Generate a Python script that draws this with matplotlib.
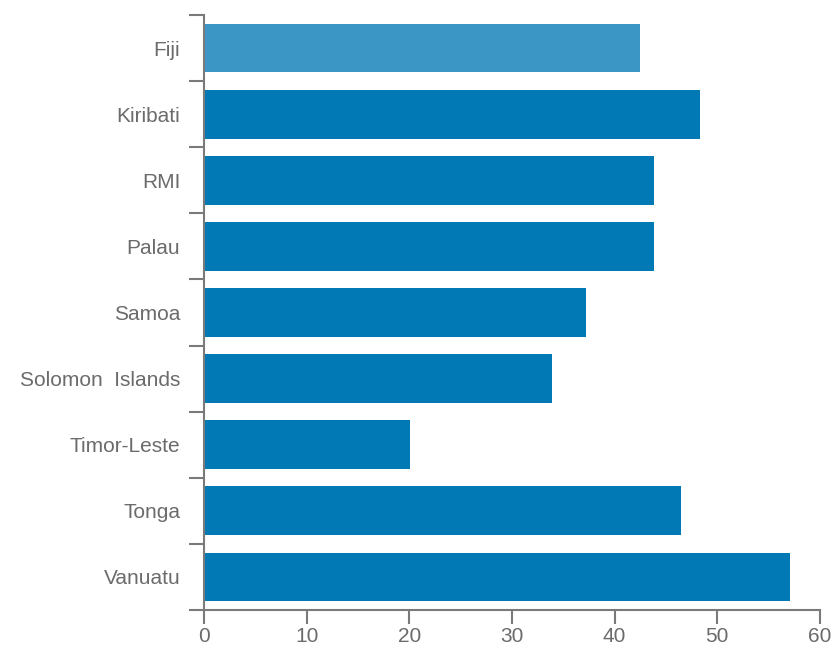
import matplotlib.pyplot as plt
import numpy as np
from matplotlib import font_manager

countries = ["Fiji", "Kiribati", "RMI", "Palau", "Samoa", "Solomon  Islands",
             "Timor-Leste", "Tonga", "Vanuatu"]
values = [42.5, 48.3, 43.8, 43.8, 37.2, 33.9, 20.1, 46.5, 57.1]
xticks = [0, 10, 20, 30, 40, 50, 60]

names = {f.name for f in font_manager.fontManager.ttflist}
family = "Liberation Sans Narrow" if "Liberation Sans Narrow" in names else "Liberation Sans"
plt.rcParams["font.family"] = [family, "DejaVu Sans"]

bar_c = "#0079b4"
txt_c = "#6b6b6b"
axis_c = "#7a7a7a"

fig = plt.figure(figsize=(8.37, 6.48), dpi=100)
ax = fig.add_axes([0.2437, 0.0586, 0.7360, 0.9183])

y = np.arange(len(countries))
colors = [bar_c] * len(countries)
colors[0] = "#3b95c5"
ax.barh(y, values, height=0.74, color=colors)

ax.set_xlim(0, 60)
ax.set_ylim(len(countries) - 0.5, -0.5)
ax.set_xticks(xticks)
ax.set_xticklabels([str(t) for t in xticks], fontsize=15, color=txt_c)
ax.set_yticks(y)
ax.set_yticklabels(countries, fontsize=15, color=txt_c)
ax.set_yticks(np.arange(len(countries) + 1) - 0.5, minor=True)
ax.tick_params(axis="y", which="major", length=0, pad=17)
ax.tick_params(axis="y", which="minor", length=11, width=1.5, color=axis_c)
ax.tick_params(axis="x", length=10, width=1.5, color=axis_c, pad=2)

for side in ["top", "right"]:
    ax.spines[side].set_visible(False)
for side in ["left", "bottom"]:
    ax.spines[side].set_color(axis_c)
    ax.spines[side].set_linewidth(1.5)

fig.savefig("out.png", dpi=100)
